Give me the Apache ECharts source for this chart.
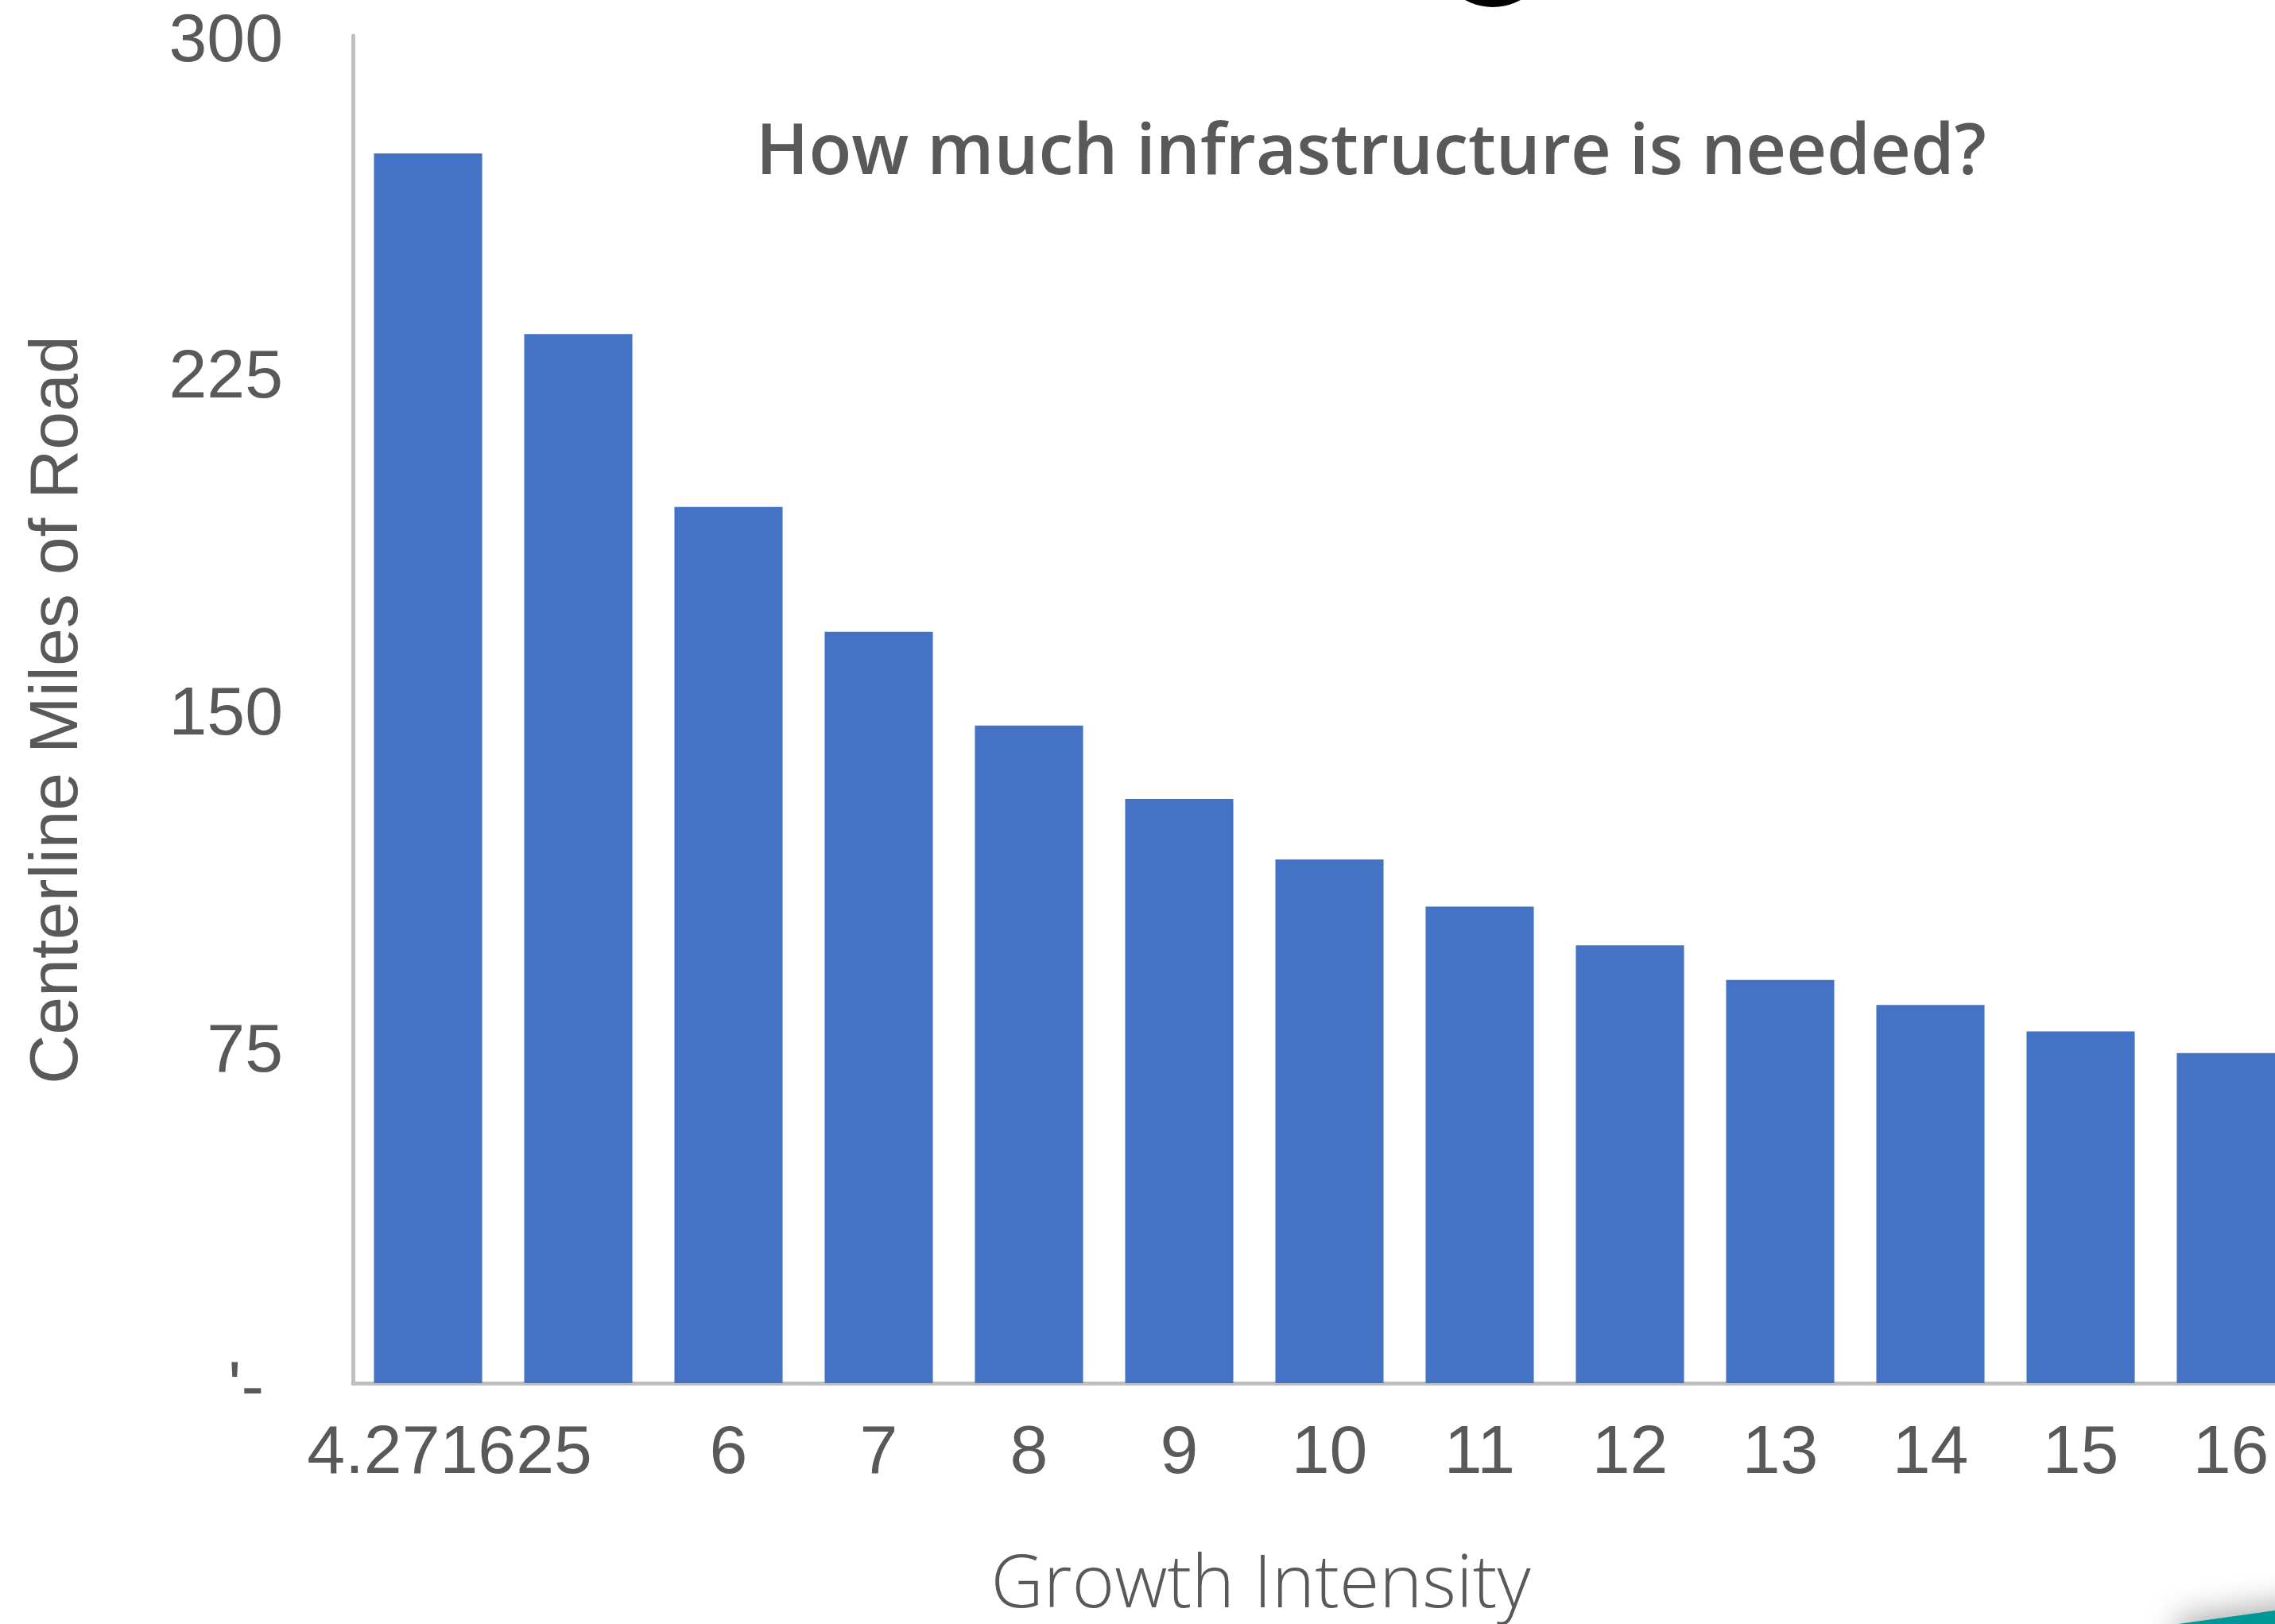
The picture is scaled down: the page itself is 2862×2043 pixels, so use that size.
<!DOCTYPE html>
<html>
<head>
<meta charset="utf-8">
<style>
  html, body { margin: 0; padding: 0; background: #ffffff; }
  #chart { width: 2862px; height: 2043px; }
</style>
<script src="https://cdn.jsdelivr.net/npm/echarts@6/dist/echarts.min.js"></script>
</head>
<body>
<div id="chart"></div>
<script>
// ---- data ----
const categories = ['4.271625', '5', '6', '7', '8', '9', '10', '11', '12', '13', '14', '15', '16'];
const roadMiles = [273.8, 233.6, 195.1, 167.3, 146.4, 130.1, 116.6, 106.1, 97.5, 89.8, 84.2, 78.3, 73.5];
const yTickValues = [0, 75, 150, 225, 300];
const zeroLabel = "'- ";
const chartTitle = 'How much infrastructure is needed?';
const xTitle = 'Growth Intensity';
const yTitle = 'Centerline Miles of Road';

// ---- helpers ----
function fitSize(text, family, weight, targetW) {
  const c = document.createElement('canvas').getContext('2d');
  c.font = weight + ' 100px ' + family;
  return 100 * targetW / c.measureText(text).width;
}
const GREY = '#595959';
const LABEL_FONT = '"Liberation Sans", Arial, sans-serif';
const titleFamily = '"Open Sans", Lato, sans-serif';
const titleSize = fitSize(chartTitle, '"Open Sans"', 600, 1548);
const xTitleSize = fitSize(xTitle, '"Open Sans"', 300, 679);

const chart = echarts.init(document.getElementById('chart'), null, { renderer: 'canvas' });
chart.setOption({
  backgroundColor: '#ffffff',
  animation: false,
  grid: { left: 444, width: 2457, top: 45, height: 1695, containLabel: false, outerBoundsMode: 'none' },
  xAxis: {
    type: 'category',
    data: categories,
    axisLine: { show: true, lineStyle: { color: '#BFBFBF', width: 5 } },
    axisTick: { show: false },
    axisLabel: {
      interval: function (index) { return index !== 1; },
      margin: 46,
      fontFamily: LABEL_FONT,
      fontSize: 86,
      color: GREY,
      formatter: function (v, i) { return i === 0 ? '{a|' + v + '}' : v; },
      rich: { a: { fontFamily: LABEL_FONT, fontSize: 86, color: GREY, padding: [0, 0, 0, 54] } }
    },
    splitLine: { show: false }
  },
  yAxis: {
    type: 'value',
    min: 0,
    max: 300,
    interval: 75,
    axisLine: { show: true, lineStyle: { color: '#BFBFBF', width: 5 } },
    axisTick: { show: false },
    splitLine: { show: false },
    axisLabel: {
      margin: 88,
      fontFamily: LABEL_FONT,
      fontSize: 86,
      color: GREY,
      formatter: function (v) {
        const t = yTickValues.indexOf(v) === 0 ? zeroLabel : String(v);
        return '{v|' + t + '}';
      },
      rich: { v: { fontFamily: LABEL_FONT, fontSize: 86, color: GREY, padding: [16, 0, 0, 0] } }
    }
  },
  series: [{
    type: 'bar',
    data: roadMiles,
    barCategoryGap: '28%',
    itemStyle: { color: '#4472C4' }
  }],
  graphic: [
    {
      type: 'text', x: 1725, y: 194,
      style: { text: chartTitle, fontFamily: titleFamily, fontWeight: 600, fontSize: titleSize, fill: GREY, align: 'center', verticalAlign: 'middle' }
    },
    {
      type: 'text', x: 1586, y: 1996,
      style: { text: xTitle, fontFamily: titleFamily, fontWeight: 300, fontSize: xTitleSize, fill: GREY, align: 'center', verticalAlign: 'middle' }
    },
    {
      type: 'text', x: 73, y: 893, rotation: Math.PI / 2,
      style: { text: yTitle, fontFamily: LABEL_FONT, fontSize: 86, fill: GREY, align: 'center', verticalAlign: 'middle' }
    },
    {
      type: 'circle', shape: { cx: 1878, cy: -63, r: 72 },
      style: { fill: '#000000' }
    },
    {
      type: 'polygon',
      shape: { points: [[2740, 2043], [3300, 1965], [3300, 2300], [2740, 2300]] },
      style: { fill: '#00979A', shadowColor: 'rgba(0,0,0,0.35)', shadowBlur: 40, shadowOffsetY: -6 },
      z: 100
    }
  ]
});
</script>
</body>
</html>
